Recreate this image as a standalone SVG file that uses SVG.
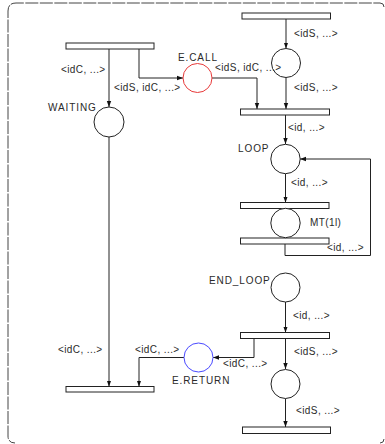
<svg xmlns="http://www.w3.org/2000/svg" width="385" height="444" viewBox="0 0 385 444">
  <style>
    text { font-family: "Liberation Sans", Arial, sans-serif; font-size: 10px; letter-spacing: 0.4px; fill: #2a2a2a; }
    text.name { letter-spacing: 0.9px; }
    .place { fill: #fff; stroke: #222; stroke-width: 1; }
    .call { stroke: #e83a3a; }
    .ret { stroke: #4a4aff; }
    .trans { fill: #fff; stroke: #222; stroke-width: 1; }
    .arc { fill: none; stroke: #222; stroke-width: 1; marker-end: url(#arrow); }
    .frame { fill: none; stroke: #444; stroke-width: 1; stroke-dasharray: 13 1.5; }
  </style>
  <defs>
    <marker id="arrow" viewBox="0 0 6 6" refX="6" refY="3" markerWidth="6" markerHeight="6" markerUnits="userSpaceOnUse" orient="auto">
      <path d="M0,0.8 L6,3 L0,5.2 z" fill="#111"/>
    </marker>
  </defs>
  <rect width="385" height="444" fill="#fff"/>

  <!-- frame -->
  <path class="frame" d="M384,7 Q384,3 380,3 H16 Q8,3 8,11 V436 Q8,443 15,443"/>
  <path d="M380,443 Q384,443 384,439" fill="none" stroke="#444" stroke-width="1"/>

  <!-- connectors -->
  <g id="arcs">
    <path class="arc" d="M109,49 V107"/>
    <path class="arc" d="M139,49 V78 H183"/>
    <path class="arc" d="M109,137 V386.5"/>
    <path class="arc" d="M212,78 H257 V109"/>
    <path class="arc" d="M286,19 V48.5"/>
    <path class="arc" d="M286,77.5 V109"/>
    <path class="arc" d="M285.5,115 V144"/>
    <path class="arc" d="M285.5,173.5 V202.5"/>
    <path class="arc" d="M285,244 V255.5 H370.5 V159 H300"/>
    <path class="arc" d="M285.5,302 V332.5"/>
    <path class="arc" d="M254,338.5 V357.5 H213"/>
    <path class="arc" d="M285.5,338.5 V369"/>
    <path class="arc" d="M285.5,398.5 V427"/>
    <path class="arc" d="M184,357.5 H139 V386.5"/>
  </g>

  <!-- transitions -->
  <g id="t_top_left"><rect class="trans" x="66" y="43" width="88" height="6"/></g>
  <g id="t_top_right"><rect class="trans" x="242" y="13" width="88.5" height="6"/></g>
  <g id="t_join"><rect class="trans" x="240.5" y="109" width="89" height="6"/></g>
  <g id="t_mt_in"><rect class="trans" x="240.5" y="202.5" width="88.5" height="6"/></g>
  <g id="t_mt_out"><rect class="trans" x="240.5" y="238" width="88.5" height="6"/></g>
  <g id="t_return"><rect class="trans" x="240.5" y="332.5" width="89" height="6"/></g>
  <g id="t_bottom_right"><rect class="trans" x="242.5" y="427" width="88" height="6.5"/></g>
  <g id="t_bottom_left"><rect class="trans" x="66" y="386.5" width="88" height="5.5"/></g>

  <!-- places -->
  <g id="p_waiting">
    <circle class="place" cx="109" cy="122" r="15"/>
    <text class="name" x="48" y="111">WAITING</text>
  </g>
  <g id="p_ecall">
    <circle class="place call" cx="197.5" cy="78" r="14.5"/>
    <text class="name" x="178" y="61">E.CALL</text>
  </g>
  <g id="p_server">
    <circle class="place" cx="286" cy="63" r="14.5"/>
  </g>
  <g id="p_loop">
    <circle class="place" cx="285.5" cy="159" r="14.7"/>
    <text class="name" x="238" y="152">LOOP</text>
  </g>
  <g id="p_mt">
    <circle class="place" cx="285.5" cy="223" r="14.7"/>
    <text x="310" y="226">MT(1l)</text>
  </g>
  <g id="p_end_loop">
    <circle class="place" cx="285.5" cy="287.5" r="14.5"/>
    <text class="name" x="209" y="284">END_LOOP</text>
  </g>
  <g id="p_ereturn">
    <circle class="place ret" cx="198.5" cy="357.5" r="14.5"/>
    <text class="name" x="172" y="383.5">E.RETURN</text>
  </g>
  <g id="p_server_end">
    <circle class="place" cx="285.5" cy="384" r="14.5"/>
  </g>

  <!-- arc labels -->
  <g id="labels">
    <text x="61" y="73">&lt;idC, ...&gt;</text>
    <text x="114" y="91">&lt;idS, idC, ...&gt;</text>
    <text x="215" y="71">&lt;idS, idC, ...&gt;</text>
    <text x="294" y="37">&lt;idS, ...&gt;</text>
    <text x="294" y="91">&lt;idS, ...&gt;</text>
    <text x="288" y="131">&lt;id, ...&gt;</text>
    <text x="291" y="186">&lt;id, ...&gt;</text>
    <text x="327" y="251">&lt;id, ...&gt;</text>
    <text x="293" y="319">&lt;id, ...&gt;</text>
    <text x="223" y="367">&lt;idC, ...&gt;</text>
    <text x="294" y="354.5">&lt;idS, ...&gt;</text>
    <text x="296" y="413.5">&lt;idS, ...&gt;</text>
    <text x="58" y="353">&lt;idC, ...&gt;</text>
    <text x="135" y="353">&lt;idC, ...&gt;</text>
  </g>
</svg>
